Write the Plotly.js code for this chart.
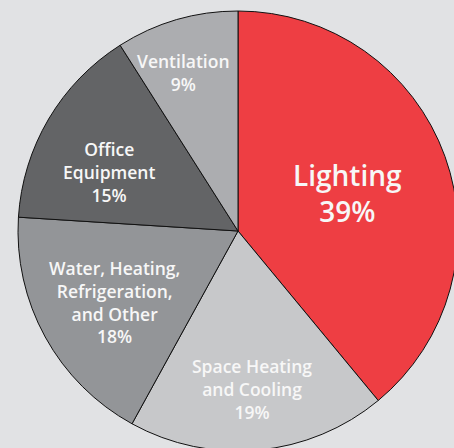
<!DOCTYPE html>
<html><head><meta charset="utf-8">
<script src="https://cdn.plot.ly/plotly-3.0.1.min.js"></script>
<style>
html,body{margin:0;padding:0;background:#e1e2e4;overflow:hidden;width:454px;height:448px;}
#chart{position:absolute;left:0;top:0;width:476px;height:462px;}
</style></head>
<body><div id="chart"></div>
<script>
const categories = ["Lighting", "Space Heating<br>and Cooling", "Water, Heating,<br>Refrigeration,<br>and Other", "Office<br>Equipment", "Ventilation"];
const values = [39, 19, 18, 15, 9];
const colors = ["#ee3e43", "#c7c8ca", "#939598", "#636466", "#acadb0"];
// label anchor positions in pixels (style only)
const labelPos = [[347, 193, 28], [252, 389, 17.5], [114, 302, 17.5], [109, 172, 17.5], [183, 72, 17.5]];

const W = 476, H = 462, R = 220;
const annotations = categories.map((c, i) => ({
  text: c + "<br>" + values[i] + "%",
  x: labelPos[i][0] / W, y: 1 - labelPos[i][1] / H,
  xref: "paper", yref: "paper", showarrow: false,
  xanchor: "center", yanchor: "middle",
  font: {family: "'Open Sans', sans-serif", size: labelPos[i][2], color: "#f7f7f7", weight: 600}
}));

Plotly.newPlot("chart", [{
  type: "pie", labels: categories, values: values, sort: false,
  direction: "clockwise", rotation: 0,
  marker: {colors: colors, line: {color: "#111", width: 1}},
  textinfo: "none", hoverinfo: "none",
  domain: {x: [0.5 - R / W, 0.5 + R / W], y: [0.5 - R / H, 0.5 + R / H]}
}], {
  width: W, height: H, margin: {l: 0, r: 0, t: 0, b: 0},
  paper_bgcolor: "rgba(0,0,0,0)", plot_bgcolor: "rgba(0,0,0,0)",
  showlegend: false, annotations: annotations
}, {displayModeBar: false, staticPlot: true});
</script></body></html>
